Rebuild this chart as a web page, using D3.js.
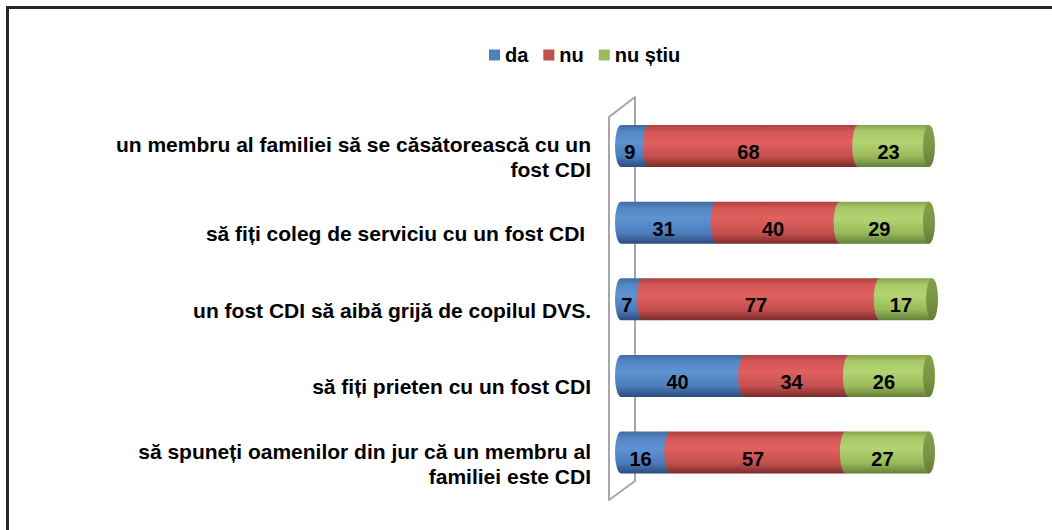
<!DOCTYPE html>
<html>
<head>
<meta charset="utf-8">
<script src="https://cdnjs.cloudflare.com/ajax/libs/d3/7.8.5/d3.min.js"></script>
<style>
  html, body { margin: 0; padding: 0; background: #fff; }
  svg { display: block; }
  text { font-family: "Liberation Sans", Arial, sans-serif; font-weight: bold; fill: #000; }
  .cat { white-space: pre; }
</style>
</head>
<body>
<svg id="chart" width="1052" height="530"></svg>
<script>
// ---- data ----
const categories = [
  "un membru al familiei să se căsătorească cu un\nfost CDI",
  "să fiți coleg de serviciu cu un fost CDI ",
  "un fost CDI să aibă grijă de copilul DVS.",
  "să fiți prieten cu un fost CDI",
  "să spuneți oamenilor din jur că un membru al\nfamiliei este CDI"
];
const seriesNames = ["da", "nu", "nu știu"];
const daValues = [9, 31, 7, 40, 16];
const nuValues = [68, 40, 77, 34, 57];
const nuStiuValues = [23, 29, 17, 26, 27];

// ---- styling ----
const palette = {
  "da":      {stops: ["#3f6aa0", "#5486c4", "#5e93d3", "#4c7cbb", "#2c4c7c"], legend: "#4f81bd"},
  "nu":      {stops: ["#a84240", "#d25654", "#e0605e", "#c4504e", "#7a2c2b"], legend: "#c0504d"},
  "nu știu": {stops: ["#86a34b", "#a8c767", "#b4d473", "#99b95a", "#63803a"], legend: "#9bbb59"}
};
const stopOffsets = ["0%", "15%", "40%", "75%", "100%"];

const svg = d3.select("#chart");
const fontSize = 20;
const catFontSize = 21;

// outer frame (extends past right/bottom edge)
svg.append("rect").attr("x", 7.5).attr("y", 7.5).attr("width", 1100).attr("height", 600)
  .attr("fill", "#fff").attr("stroke", "#262626").attr("stroke-width", 3);

// gradients
const defs = svg.append("defs");
seriesNames.forEach((s, i) => {
  const g = defs.append("linearGradient").attr("id", "grad" + i)
    .attr("x1", 0).attr("y1", 0).attr("x2", 0).attr("y2", 1);
  palette[s].stops.forEach((c, j) => g.append("stop").attr("offset", stopOffsets[j]).attr("stop-color", c));
});
const capGrad = defs.append("linearGradient").attr("id", "capGrad")
  .attr("x1", 0).attr("y1", 0).attr("x2", 0).attr("y2", 1);
capGrad.append("stop").attr("offset", "0%").attr("stop-color", "#839f4c");
capGrad.append("stop").attr("offset", "50%").attr("stop-color", "#7b9745");
capGrad.append("stop").attr("offset", "100%").attr("stop-color", "#637d37");

// scales
const x = d3.scaleLinear().domain([0, 100]).range([621, 929]);
const y = d3.scalePoint().domain(categories).range([146, 452.5]);
const barH = 42, rx = 6, ry = barH / 2;

// back wall (3D)
const wallL = 609, wallR = 635;
const yFirst = y(categories[0]), yLast = y(categories[categories.length - 1]);
const wTopL = yFirst - 29, wBotL = yLast + 47.5, wTopR = yFirst - 49, wBotR = yLast + 28.5;
svg.append("path")
  .attr("d", `M${wallL},${wTopL} L${wallR},${wTopR} L${wallR},${wBotR} L${wallL},${wBotL} Z`)
  .attr("fill", "#fff").attr("stroke", "#a6a6a6").attr("stroke-width", 2).attr("stroke-linejoin", "round");

// stacked data
const rows = categories.map((c, i) => ({cat: c, vals: [daValues[i], nuValues[i], nuStiuValues[i]]}));
const stackData = [];
rows.forEach(r => {
  let acc = 0;
  r.vals.forEach((v, k) => {
    stackData.push({cat: r.cat, series: k, v: v, x0: acc, x1: acc + v, last: k === r.vals.length - 1});
    acc += v;
  });
});

function segPath(d) {
  const x0 = x(d.x0), x1 = x(d.x1), cy = y(d.cat);
  const t = cy - ry, b = cy + ry;
  return `M${x0},${t} L${x1},${t} L${x1},${b} L${x0},${b} A${rx},${ry} 0 0 1 ${x0},${t} Z`;
}

const bars = svg.append("g");
bars.selectAll("path.seg").data(stackData).join("path").attr("class", "seg")
  .attr("d", segPath).attr("fill", d => `url(#grad${d.series})`);
bars.selectAll("ellipse.cap").data(stackData.filter(d => d.last)).join("ellipse").attr("class", "cap")
  .attr("cx", d => x(d.x1)).attr("cy", d => y(d.cat)).attr("rx", rx).attr("ry", ry)
  .attr("fill", "url(#capGrad)");

// value labels
svg.append("g").selectAll("text").data(stackData).join("text")
  .attr("x", d => (x(d.x0) + x(d.x1)) / 2 - 5)
  .attr("y", d => y(d.cat) + 6)
  .attr("text-anchor", "middle").attr("dominant-baseline", "central")
  .attr("font-size", fontSize)
  .text(d => d.v);

// category labels
const labG = svg.append("g");
categories.forEach(c => {
  const lines = c.split("\n");
  const lh = 25;
  const cy = y(c) + 11;
  const t = labG.append("text").attr("class", "cat").attr("text-anchor", "end").attr("font-size", catFontSize);
  lines.forEach((ln, i) => {
    t.append("tspan").attr("x", 591).attr("y", cy + (i - (lines.length - 1) / 2) * lh)
      .attr("dominant-baseline", "central").text(ln);
  });
});

// legend
const leg = svg.append("g");
let lx = 489;
const ly = 55;
seriesNames.forEach(s => {
  leg.append("rect").attr("x", lx).attr("y", ly - 5.5).attr("width", 11).attr("height", 11).attr("fill", palette[s].legend);
  const tx = leg.append("text").attr("x", lx + 16).attr("y", ly).attr("dominant-baseline", "central")
    .attr("font-size", fontSize).text(s);
  lx += 16 + tx.node().getComputedTextLength() + 15;
});
</script>
</body>
</html>
